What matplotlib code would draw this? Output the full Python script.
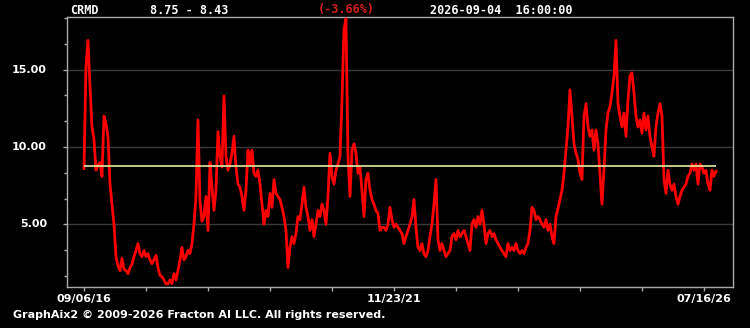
"""
CRMD price history chart, GraphAix2 style.
"""

import matplotlib
matplotlib.use('Agg')
import matplotlib.pyplot as plt
from matplotlib.ticker import MultipleLocator, FixedLocator
import numpy as np

symbol = 'CRMD'
ref_price = 8.75
last_price = 8.43
pct_change = -3.66
stamp = '2026-09-04  16:00:00'

# closing prices, oldest first, one sample every few sessions
prices = [
    8.6, 15.2, 16.9, 14.0, 11.3, 10.5, 8.5, 8.8, 9.0, 8.1,
    12.0, 11.5, 10.7, 7.6, 6.3, 5.0, 2.9, 2.3, 2.0, 2.8,
    2.1, 2.0, 1.8, 2.2, 2.4, 2.9, 3.3, 3.75, 3.1, 2.9,
    3.3, 2.9, 3.1, 2.7, 2.45, 2.7, 3.0, 2.2, 1.7, 1.6,
    1.4, 1.15, 1.15, 1.4, 1.15, 1.8, 1.4, 2.0, 2.7, 3.5,
    2.7, 2.9, 3.3, 3.1, 3.75, 5.0, 6.8, 11.75, 6.5, 5.2,
    5.5, 6.8, 4.6, 9.0, 7.4, 5.9, 7.2, 11.0, 9.4, 8.7,
    13.3, 9.4, 8.5, 8.9, 9.6, 10.7, 8.7, 7.6, 7.4, 6.8,
    5.9, 7.2, 9.8, 8.9, 9.8, 8.3, 8.1, 8.5, 7.6, 6.3,
    5.0, 5.9, 5.5, 7.0, 6.1, 7.9, 7.0, 6.8, 6.6, 6.1,
    5.5, 4.6, 2.2, 3.5, 4.2, 3.75, 4.4, 5.5, 5.3, 6.3,
    7.4, 6.1, 5.5, 4.6, 5.3, 4.2, 5.0, 5.9, 5.5, 6.3,
    5.9, 5.0, 6.8, 9.6, 8.1, 7.6, 8.5, 8.9, 9.4, 13.0,
    17.6, 18.3, 9.4, 6.8, 9.8, 10.2, 9.6, 8.3, 8.7, 7.2,
    5.5, 7.9, 8.3, 7.2, 6.6, 6.3, 5.9, 5.7, 4.6, 4.8,
    4.8, 4.6, 5.0, 6.1, 5.3, 4.8, 5.0, 4.8, 4.6, 4.4,
    3.75, 4.2, 4.6, 5.0, 5.5, 6.6, 4.8, 3.5, 3.3, 3.75,
    3.1, 2.9, 3.3, 4.2, 5.0, 6.3, 7.9, 4.0, 3.3, 3.75,
    3.3, 2.9, 3.1, 3.3, 4.2, 4.4, 4.0, 4.6, 4.2, 4.4,
    4.6, 4.2, 3.75, 3.3, 5.0, 5.3, 4.8, 5.5, 5.0, 5.9,
    5.0, 3.75, 4.4, 4.6, 4.2, 4.4, 4.0, 3.75, 3.5, 3.3,
    3.1, 2.9, 3.75, 3.3, 3.5, 3.3, 3.75, 3.3, 3.1, 3.3,
    3.1, 3.5, 3.75, 4.6, 6.1, 5.9, 5.3, 5.5, 5.3, 5.0,
    4.8, 5.3, 4.6, 5.0, 4.2, 3.75, 5.5, 6.0, 6.6, 7.2,
    8.3, 9.8, 11.3, 13.7, 12.0, 10.2, 9.6, 9.2, 8.3, 7.9,
    12.0, 12.8, 11.3, 10.7, 11.1, 9.8, 11.1, 10.2, 8.3, 6.3,
    8.5, 11.1, 12.2, 12.6, 13.5, 14.6, 16.9, 12.8, 12.0, 11.3,
    12.2, 10.7, 13.05, 14.6, 14.8, 13.5, 12.0, 11.3, 11.75, 10.9,
    12.2, 11.1, 12.0, 10.7, 10.0, 9.4, 11.3, 12.2, 12.8, 12.0,
    7.9, 7.0, 8.5, 7.6, 7.2, 7.6, 6.8, 6.3, 6.8, 7.2,
    7.4, 7.6, 8.1, 8.3, 8.9, 8.5, 8.9, 7.6, 8.9, 8.7,
    8.3, 8.5, 7.6, 7.2, 8.5, 8.1, 8.43,
]

date_labels = ['09/06/16', '11/23/21', '07/16/26']
tick_step = 31          # samples between x tick marks
label_every = 5         # label every 5th tick

def draw():
    fig = plt.figure(figsize=(7.5, 3.28), dpi=100, facecolor='black')
    ax = fig.add_axes([0.0893, 0.125, 0.888, 0.823], facecolor='black')

    x = np.arange(len(prices))
    ax.plot(x, prices, color='#ff0000', lw=2.0, solid_joinstyle='round', zorder=3)
    ax.hlines(ref_price, x[0], x[-1], color='#e4eca0', lw=1.2, zorder=4)

    ax.set_xlim(-8.5, 324.5)
    ax.set_ylim(0.94, 18.41)

    # gridlines and y ticks
    ax.yaxis.set_major_locator(MultipleLocator(5))
    ax.yaxis.set_minor_locator(MultipleLocator(5 / 3))
    ax.grid(axis='y', which='major', color='#3a3a3a', lw=1)
    ax.set_yticklabels([])
    for v in [5, 10, 15]:
        ax.text(-0.03, v, '%.2f' % v, transform=ax.get_yaxis_transform(),
                ha='right', va='center', color='white', fontsize=8,
                fontweight='bold')

    ticks = list(range(0, len(prices), tick_step))
    ax.xaxis.set_major_locator(FixedLocator(ticks))
    ax.set_xticklabels([])
    for i, lab in enumerate(date_labels):
        ax.text(i * tick_step * label_every, -0.025, lab,
                transform=ax.get_xaxis_transform(), ha='center', va='top',
                color='white', fontsize=8, fontweight='bold')

    ax.tick_params(axis='both', which='both', colors='#aaaaaa', length=3, width=1)
    ax.tick_params(axis='y', which='minor', length=2)
    for s in ax.spines.values():
        s.set_color('#aaaaaa')
        s.set_linewidth(1)

    # header
    hdr = dict(color='white', fontsize=8.5, fontweight='bold',
               family='DejaVu Sans Mono', va='center')
    fig.text(70 / 750, 1 - 10 / 328, symbol, **hdr)
    fig.text(150 / 750, 1 - 10 / 328, '%.2f - %.2f' % (ref_price, last_price), **hdr)
    hdr['color'] = '#d42020'
    fig.text(318 / 750, 1 - 10 / 328, '(%.2f%%)' % pct_change, **hdr)
    hdr['color'] = 'white'
    fig.text(430 / 750, 1 - 10 / 328, stamp, **hdr)

    fig.text(13 / 750, 1 - 315 / 328,
             'GraphAix2 \u00a9 2009-2026 Fracton AI LLC. All rights reserved.',
             color='white', fontsize=8, fontweight='bold', va='center')

    plt.savefig('out.png', dpi=100, facecolor='black')

draw()
